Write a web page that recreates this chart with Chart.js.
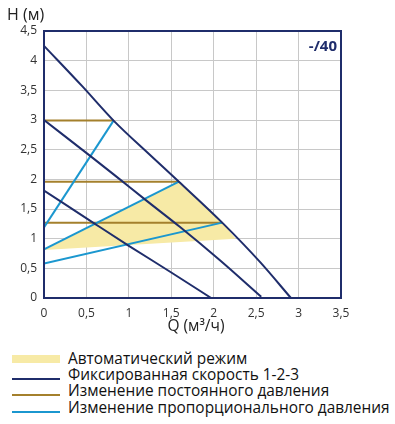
<!DOCTYPE html>
<html>
<head>
<meta charset="utf-8">
<script src="https://cdn.jsdelivr.net/npm/chart.js@4"></script>
<style>
  html, body { margin: 0; padding: 0; background: #fff; }
  body { width: 395px; height: 424px; position: relative; overflow: hidden; font-family: 'Open Sans', sans-serif; }
  #wrap { position: absolute; left: 0; top: 0; width: 395px; height: 340px; }
  .leg { position: absolute; left: 12px; font-size: 15.4px; color: #111; line-height: 17px; white-space: nowrap; }
  .leg i { position: absolute; left: 0; width: 48px; }
  .leg span { position: absolute; left: 56px; top: 0; }
</style>
</head>
<body>
<div id="wrap"><canvas id="chart" width="395" height="340"></canvas></div>
<div id="legend"></div>
<script>
// Q (m3/h) → H (m)
const speed1 = [[0, 1.81], [0.6, 1.25], [1.0, 0.88], [1.5, 0.43], [1.97, 0]]
const speed2 = [[0, 3.0], [0.54, 2.4], [0.85, 2.05], [1.2, 1.65], [1.6, 1.2], [2.07, 0.64], [2.56, 0.02]]
const speed3 = [[0, 4.25], [0.45, 3.57], [0.82, 2.99], [1.25, 2.41], [1.59, 1.96], [2.1, 1.27], [2.55, 0.6], [2.91, 0]]

const constPressure = [
  [[0, 2.99], [0.82, 2.99]],
  [[0, 1.96], [1.59, 1.96]],
  [[0, 1.27], [2.1, 1.27]]
]
const propPressure = [
  [[0, 1.19], [0.82, 2.99]],
  [[0, 0.82], [1.59, 1.96]],
  [[0, 0.58], [2.1, 1.27]]
]
const autoZone = [[0, 0.81], [1.59, 1.96], [2.1, 1.27], [2.26, 1.0], [0, 0.81]]

const xTicks = ['0', '0,5', '1', '1,5', '2', '2,5', '3', '3,5']
const yTicks = ['0', '0,5', '1', '1,5', '2', '2,5', '3', '3,5', '4', '4,5']

const legendLabels = [
  'Автоматический режим',
  'Фиксированная скорость 1-2-3',
  'Изменение постоянного давления',
  'Изменение пропорционального давления'
]

const NAVY = '#1f2d6b'
const BROWN = '#a4802c'
const BLUE = '#1b97cf'
const YELLOW = '#f7eaa6'

const toXY = arr => arr.map(([x, y]) => ({ x, y }))

function line(points, color, width) {
  return {
    data: toXY(points),
    borderColor: color,
    borderWidth: width,
    showLine: true,
    pointRadius: 0,
    fill: false,
    tension: 0
  }
}

const datasets = [
  ...[speed1, speed2, speed3].map(s => ({ ...line(s, NAVY, 2), cubicInterpolationMode: 'monotone' })),
  ...propPressure.map(s => line(s, BLUE, 2)),
  ...constPressure.map(s => line(s, BROWN, 2)),
  {
    data: toXY(autoZone),
    showLine: true,
    borderWidth: 0,
    borderColor: 'rgba(0,0,0,0)',
    backgroundColor: YELLOW,
    pointRadius: 0,
    fill: 'shape',
    order: 10
  }
]

const decor = {
  id: 'decor',
  afterDraw(chart) {
    const { ctx, chartArea: a } = chart
    ctx.save()
    ctx.strokeStyle = NAVY
    ctx.lineWidth = 2
    ctx.strokeRect(a.left, a.top, a.right - a.left, a.bottom - a.top)

    ctx.fillStyle = '#222'
    ctx.font = '16px "Open Sans"'
    ctx.textBaseline = 'middle'
    ctx.textAlign = 'left'
    ctx.fillText('H (м)', 7, 15)
    ctx.font = '15.5px "Open Sans"'
    ctx.textAlign = 'center'
    ctx.fillText('Q (м³/ч)', 196, 327)

    ctx.fillStyle = NAVY
    ctx.font = 'bold 15px "Open Sans"'
    ctx.textAlign = 'right'
    ctx.fillText('-/40', 337, 47)
    ctx.restore()
  }
}

const grid = {
  color: '#c8c8c8',
  lineWidth: 1,
  drawTicks: false
}

new Chart(document.getElementById('chart'), {
  type: 'scatter',
  data: { datasets },
  plugins: [decor],
  options: {
    responsive: false,
    animation: false,
    layout: { padding: { top: 31, right: 54, left: 0, bottom: 0 } },
    plugins: { legend: { display: false }, tooltip: { enabled: false } },
    scales: {
      x: {
        type: 'linear',
        min: 0,
        max: 3.5,
        grid,
        border: { display: false },
        ticks: {
          stepSize: 0.5,
          padding: 8,
          color: '#333',
          font: { family: 'Open Sans', size: 12 },
          callback: (v, i) => xTicks[i]
        },
        afterFit: s => { s.height = 42 }
      },
      y: {
        type: 'linear',
        min: 0,
        max: 4.5,
        grid,
        border: { display: false },
        ticks: {
          stepSize: 0.5,
          padding: 7,
          color: '#333',
          font: { family: 'Open Sans', size: 12 },
          callback: (v, i) => yTicks[i]
        },
        afterFit: s => { s.width = 44 }
      }
    }
  }
})

// legend below the plot
const swatches = [
  { color: YELLOW, h: 8 },
  { color: NAVY, h: 2 },
  { color: BROWN, h: 2 },
  { color: BLUE, h: 2 }
]
const rowY = [350, 366, 382, 399]
const legend = document.getElementById('legend')
legendLabels.forEach((label, i) => {
  const row = document.createElement('div')
  row.className = 'leg'
  row.style.top = rowY[i] + 'px'
  const sw = document.createElement('i')
  sw.style.background = swatches[i].color
  sw.style.height = swatches[i].h + 'px'
  sw.style.top = (i === 0 ? 5 : 12) + 'px'
  const txt = document.createElement('span')
  txt.textContent = label
  row.appendChild(sw)
  row.appendChild(txt)
  legend.appendChild(row)
})
</script>
</body>
</html>
